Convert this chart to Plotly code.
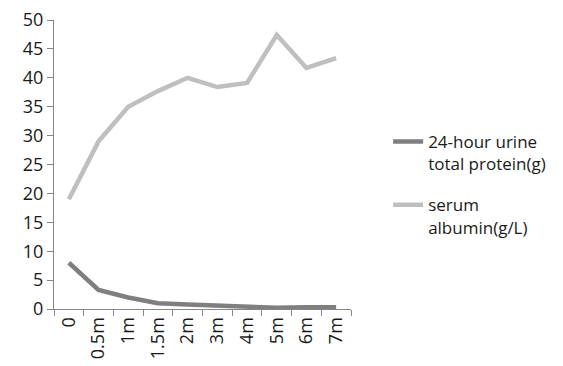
import plotly.graph_objects as go

categories = ["0", "0.5m", "1m", "1.5m", "2m", "3m", "4m", "5m", "6m", "7m"]
protein = [8.0, 3.3, 2.0, 1.0, 0.8, 0.6, 0.3, 0.2, 0.3, 0.3]
albumin = [19.0, 29.0, 35.0, 37.7, 40.0, 38.4, 39.1, 47.4, 41.7, 43.4]
y_ticks = [0, 5, 10, 15, 20, 25, 30, 35, 40, 45, 50]

font_family = "Open Sans, Liberation Sans, sans-serif"

fig = go.Figure()
fig.add_trace(go.Scatter(x=categories, y=protein, mode="lines",
                         name="24-hour urine<br>total protein(g)",
                         legendgroup="p",
                         line=dict(color="#7f7f7f", width=4.5)))
fig.add_trace(go.Scatter(x=categories, y=albumin, mode="lines",
                         name="serum<br>albumin(g/L)",
                         legendgroup="a",
                         line=dict(color="#bfbfbf", width=4.5)))

fig.update_layout(
    width=563, height=366,
    margin=dict(l=54, r=210, t=20, b=57),
    paper_bgcolor="white", plot_bgcolor="white",
    font=dict(family=font_family, size=18, color="#1a1a1a"),
    showlegend=True,
    legend=dict(x=1.125, y=0.64, xref="paper", yref="paper",
                xanchor="left", yanchor="top",
                font=dict(size=17, color="#1a1a1a"),
                valign="top", tracegroupgap=16,
                bgcolor="rgba(0,0,0,0)"),
    xaxis=dict(type="category", tickson="boundaries", ticks="outside",
               range=[-0.5, 9.5], automargin=False,
               ticklen=6, tickcolor="#868686", tickwidth=1,
               showline=True, linecolor="#868686", linewidth=1,
               showgrid=False, tickangle=-90, zeroline=False,
               tickfont=dict(size=18)),
    yaxis=dict(range=[0, 50], tickvals=y_ticks, ticks="outside",
               automargin=False,
               ticklen=6, tickcolor="#868686", tickwidth=1,
               showline=True, linecolor="#868686", linewidth=1,
               showgrid=False, zeroline=False,
               tickfont=dict(size=18)),
)

fig.write_html("out.html")
